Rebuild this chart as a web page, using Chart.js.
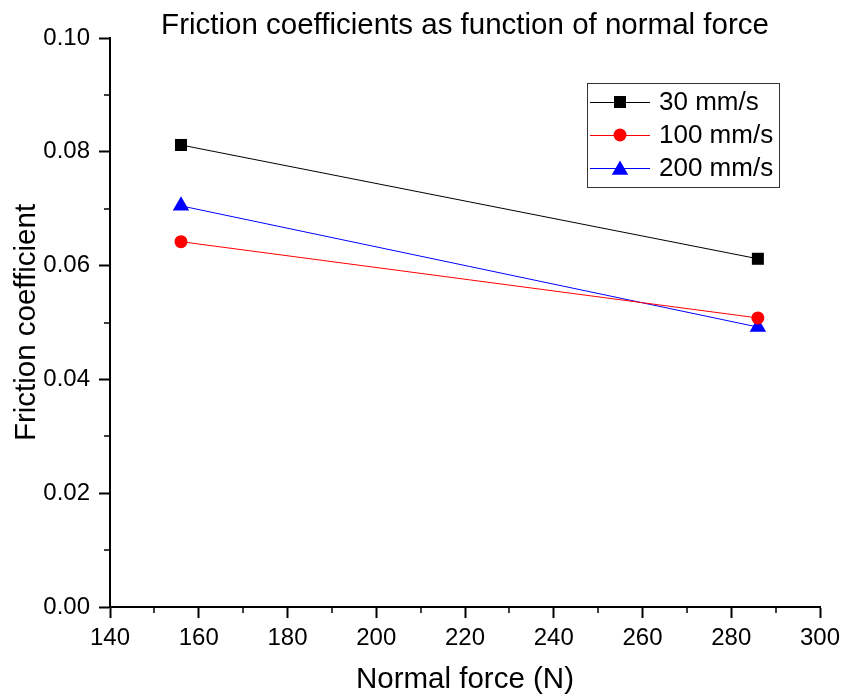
<!DOCTYPE html>
<html>
<head>
<meta charset="utf-8">
<script src="https://cdn.jsdelivr.net/npm/chart.js@4.4.1/dist/chart.umd.min.js"></script>
<style>
  html, body { margin: 0; padding: 0; background: #fff; }
  #wrap { width: 841px; height: 698px; }
</style>
</head>
<body>
<div id="wrap"><canvas id="chartjs-0" width="841" height="698"></canvas></div>
<script>
// normal force (N)
let forces = [156, 286];
// friction coefficient per sliding speed
let speed30 = [0.0812, 0.0612];
let speed100 = [0.0642, 0.0508];
let speed200 = [0.0705, 0.0492];
let seriesNames = ["30 mm/s", "100 mm/s", "200 mm/s"];

let xMinor = [150, 170, 190, 210, 230, 250, 270, 290];
let yMinor = [0.01, 0.03, 0.05, 0.07, 0.09];

const FONT = "'Liberation Sans', Arial, sans-serif";

function pts(vals) {
    let out = [];
    for (let i = 0; i < forces.length; i++) {
        out.push({ x: forces[i], y: vals[i] });
    }
    return out;
}

// short outward ticks halfway between the labelled ones
const minorTicks = {
    id: "minorTicks",
    afterDraw(chart) {
        let ctx = chart.ctx;
        let xs = chart.scales.x, ys = chart.scales.y;
        ctx.save();
        ctx.strokeStyle = "#000";
        ctx.lineWidth = 1.5;
        ctx.beginPath();
        xMinor.forEach(function (v) {
            let px = Math.round(xs.getPixelForValue(v));
            ctx.moveTo(px, xs.top);
            ctx.lineTo(px, xs.top + 6);
        });
        yMinor.forEach(function (v) {
            let py = Math.round(ys.getPixelForValue(v));
            ctx.moveTo(ys.right, py);
            ctx.lineTo(ys.right - 6, py);
        });
        ctx.stroke();
        ctx.restore();
    }
};

function markerRadius(style) {
    return style === "rect" ? 8.5 : style === "circle" ? 6.5 : 9.5;
}

// title centred over the plot and a boxed legend inside it
const extras = {
    id: "extras",
    afterDraw(chart) {
        let ctx = chart.ctx;
        let area = chart.chartArea;
        ctx.save();
        ctx.fillStyle = "#000";
        ctx.font = "29.5px " + FONT;
        ctx.textAlign = "center";
        ctx.textBaseline = "middle";
        ctx.fillText("Friction coefficients as function of normal force", (area.left + area.right) / 2, 26);

        let bx = 587, by = 83, bw = 192, bh = 104;
        ctx.strokeStyle = "#333";
        ctx.lineWidth = 1;
        ctx.strokeRect(bx + 0.5, by + 0.5, bw, bh);

        ctx.font = "26px " + FONT;
        ctx.textAlign = "left";
        chart.data.datasets.forEach(function (ds, i) {
            let cy = 102 + i * 33;
            ctx.strokeStyle = ds.borderColor;
            ctx.lineWidth = 1;
            ctx.beginPath();
            ctx.moveTo(590, cy + 0.5);
            ctx.lineTo(650, cy + 0.5);
            ctx.stroke();
            ctx.fillStyle = ds.pointBackgroundColor;
            Chart.helpers.drawPoint(ctx, {
                pointStyle: ds.pointStyle,
                radius: markerRadius(ds.pointStyle),
                rotation: 0,
                borderWidth: 0
            }, 620, ds.pointStyle === "triangle" ? cy + 2 : cy);
            ctx.fillStyle = "#000";
            ctx.fillText(ds.label, 659, cy + 1);
        });
        ctx.restore();
    }
};

let ctx = document.getElementById("chartjs-0");
let myChart = new Chart(ctx, {
    type: "line",
    data: {
        datasets: [{
            label: seriesNames[0],
            data: pts(speed30),
            borderColor: "#000000",
            pointBackgroundColor: "#000000",
            pointBorderWidth: 0,
            pointStyle: "rect",
            pointRadius: markerRadius("rect"),
            borderWidth: 1,
            fill: false
        }, {
            label: seriesNames[1],
            data: pts(speed100),
            borderColor: "#ff0000",
            pointBackgroundColor: "#ff0000",
            pointBorderWidth: 0,
            pointStyle: "circle",
            pointRadius: markerRadius("circle"),
            borderWidth: 1,
            fill: false
        }, {
            label: seriesNames[2],
            data: pts(speed200),
            borderColor: "#0000ff",
            pointBackgroundColor: "#0000ff",
            pointBorderWidth: 0,
            pointStyle: "triangle",
            pointRadius: markerRadius("triangle"),
            borderWidth: 1,
            fill: false
        }]
    },
    options: {
        responsive: false,
        animation: false,
        devicePixelRatio: 1,
        layout: { padding: { top: 38, right: 21, left: 0, bottom: 0 } },
        plugins: {
            legend: { display: false },
            title: { display: false },
            tooltip: { enabled: false }
        },
        scales: {
            x: {
                type: "linear",
                min: 140,
                max: 300,
                afterFit: function (scale) {
                    scale.height = 91;
                    scale.paddingLeft = 0;
                    scale.paddingRight = 0;
                },
                ticks: {
                    stepSize: 20,
                    color: "#000",
                    padding: 6,
                    font: { family: FONT, size: 24 }
                },
                grid: {
                    drawOnChartArea: false,
                    drawTicks: true,
                    tickLength: 11,
                    tickWidth: 2,
                    tickColor: "#000"
                },
                border: { display: true, color: "#000", width: 2 },
                title: {
                    display: true,
                    text: "Normal force (N)",
                    color: "#000",
                    padding: 0,
                    font: { family: FONT, size: 29.5 }
                }
            },
            y: {
                min: 0,
                max: 0.1,
                afterFit: function (scale) {
                    scale.width = 110;
                    scale.paddingTop = 0;
                    scale.paddingBottom = 0;
                },
                ticks: {
                    stepSize: 0.02,
                    color: "#000",
                    padding: 9,
                    font: { family: FONT, size: 24 },
                    callback: function (v) { return v.toFixed(2); }
                },
                grid: {
                    drawOnChartArea: false,
                    drawTicks: true,
                    tickLength: 11,
                    tickWidth: 2,
                    tickColor: "#000"
                },
                border: { display: true, color: "#000", width: 2 },
                title: {
                    display: true,
                    text: "Friction coefficient",
                    color: "#000",
                    padding: { top: 9, bottom: 0 },
                    font: { family: FONT, size: 29.5 }
                }
            }
        }
    },
    plugins: [minorTicks, extras]
});
</script>
</body>
</html>
